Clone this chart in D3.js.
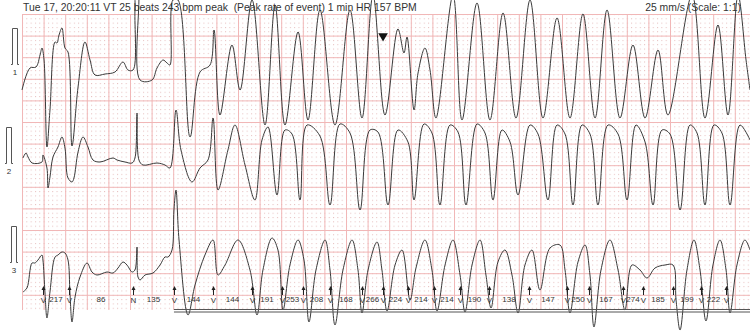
<!DOCTYPE html>
<html>
<head>
<meta charset="utf-8">
<script src="https://cdn.jsdelivr.net/npm/d3@7"></script>
<style>
  body { margin: 0; background: #fff; }
  svg { display: block; font-family: "Liberation Sans", Arial, sans-serif; }
</style>
</head>
<body>
<svg id="chart" width="750" height="332"></svg>
<script>
// header
const titleText = "Tue 17, 20:20:11 VT 25 beats 243 bpm peak  (Peak rate of event) 1 min HR 157 BPM";
const speedText = "25 mm/s (Scale: 1:1)";

// beat annotations (seconds from strip start)
const beatTimes = [0.194, 0.435, 1.028, 1.407, 1.769, 2.130, 2.407, 2.602, 2.852, 3.148, 3.343, 3.574,
    3.815, 4.056, 4.324, 4.694, 5.046, 5.250, 5.565, 5.750, 6.028, 6.287, 6.519];
const beatTypes = ["V", "V", "N", "V", "V", "V", "V", "V", "V", "V", "V", "V",
    "V", "V", "V", "V", "V", "V", "V", "V", "V", "V", "V"];
const rateLabels = [217, 86, 135, 144, 144, 191, 253, 208, 168, 266, 224, 214,
    214, 190, 138, 147, 250, 167, 274, 185, 199, 222];
const peakBeat = 10;
const eventStart = 1.407;

// traces: [seconds, mV]
const lead1 = [[0, -0.36], [0.074, 0.08], [0.13, 0.10], [0.167, 0.34], [0.185, 0.48], [0.204, 0.24],
    [0.231, -1.50], [0.259, -0.76], [0.306, 0.60], [0.324, 0.58], [0.343, 0.74], [0.370, 0.88],
    [0.398, 0.48], [0.426, 0.40], [0.463, -1.48], [0.519, -0.30], [0.583, 0.60], [0.630, 0.24],
    [0.676, -0.06], [0.769, -0.04], [0.861, 0], [0.935, 0.20], [0.981, 0.04], [1.028, 0.04],
    [1.046, 1.24], [1.056, 1.64], [1.074, 1.64], [1.093, -0.16], [1.204, -0.16], [1.25, 0.08],
    [1.306, 0.24], [1.343, 0.18], [1.370, 0.14],
    [1.398, 1.44], [1.444, 1.44], [1.556, -1.30], [1.648, 0], [1.741, 0.14], [1.778, 0.84],
    [1.833, -0.86], [1.944, 0.54], [2.019, -0.36], [2.130, 1.44], [2.250, -1.06], [2.343, 1.34],
    [2.435, -1.06], [2.556, 0.80], [2.648, -0.96], [2.759, 1.24], [2.898, -1.06], [3.037, 1.24],
    [3.148, -0.92], [3.250, 1.54], [3.361, -0.86], [3.481, 0.86], [3.537, 0.38], [3.565, 0.70],
    [3.630, -0.76], [3.667, -0.02], [3.731, 0.48], [3.778, 0.04], [3.833, -0.92], [3.991, 1.54],
    [4.074, -0.96], [4.213, 1.38], [4.333, -0.96], [4.454, 1.18], [4.574, -0.92], [4.704, 1.44],
    [4.824, -0.92], [4.954, 1.08], [5.074, -0.92], [5.194, 1.16], [5.306, -0.92], [5.417, 1.24],
    [5.537, -0.92], [5.657, 0.54], [5.769, -0.92], [5.889, 0.44], [5.981, -0.86], [6.204, 1.54],
    [6.324, -0.92], [6.444, 0.94], [6.537, -0.86], [6.630, 1.54], [6.704, 0.24], [6.741, -0.36]];
const lead2 = [[0.009, 0.08], [0.037, 0.18], [0.056, 0.10], [0.093, -0.02], [0.185, 0], [0.194, 0.14],
    [0.231, -0.12], [0.241, -0.52], [0.259, -0.30], [0.287, 0.10], [0.333, 0.30], [0.370, 0.50],
    [0.398, 0.28], [0.426, -0.32], [0.463, -0.40], [0.481, -0.32], [0.519, 0.20], [0.565, 0.50],
    [0.611, 0.30], [0.657, 0.04], [0.722, 0], [0.843, 0.08], [0.880, 0.04], [0.954, 0],
    [1.019, -0.02], [1.046, 0.08], [1.065, 0.98], [1.083, 0.04], [1.120, -0.06], [1.250, -0.02],
    [1.324, -0.06], [1.370, -0.12],
    [1.426, 1.04], [1.472, 0.24], [1.574, -0.40], [1.648, -0.12], [1.722, 0.04], [1.769, 0.88],
    [1.815, -0.56], [1.907, 0.24], [1.972, 0.74], [2.065, -0.06], [2.157, -0.76], [2.222, 0.44],
    [2.278, 0.70], [2.361, -0.66], [2.435, 0.64], [2.500, 0.56], [2.574, -0.76], [2.639, 0.74],
    [2.759, 0.52], [2.852, -0.86], [2.944, 0.76], [3.037, 0.58], [3.130, -0.96], [3.222, 0.64],
    [3.296, 0.60], [3.389, -0.86], [3.481, 0.64], [3.574, 0.40], [3.630, -0.76], [3.722, 0.76],
    [3.796, 0.58], [3.870, -0.86], [3.963, 0.74], [4.037, 0.60], [4.111, -0.86], [4.213, 0.76],
    [4.287, 0.58], [4.361, -0.76], [4.444, 0.64], [4.519, 0.40], [4.593, -0.66], [4.704, 0.74],
    [4.778, 0.56], [4.870, -0.76], [4.954, 0.74], [5.028, 0.56], [5.102, -0.86], [5.185, 0.74],
    [5.259, 0.56], [5.333, -0.86], [5.426, 0.74], [5.519, 0.56], [5.602, -0.76], [5.685, 0.74],
    [5.769, 0.40], [5.843, -0.86], [5.926, 0.64], [6.000, 0.56], [6.093, -0.96], [6.185, 0.74],
    [6.250, 0.58], [6.324, -0.86], [6.407, 0.74], [6.481, 0.58], [6.556, -0.86], [6.648, 0.74],
    [6.741, 0.44]];
const lead3 = [[0.009, -0.38], [0.046, -0.30], [0.093, 0.20], [0.120, 0.20], [0.148, 0.26], [0.185, 0.36],
    [0.194, 0.26], [0.213, -0.40], [0.231, -0.90], [0.259, -0.38], [0.306, 0.32], [0.333, 0.36],
    [0.370, 0.42], [0.398, 0.40], [0.426, 0.26], [0.444, -0.40], [0.463, -0.98], [0.491, -0.48],
    [0.537, -0.08], [0.602, 0.20], [0.648, 0.02], [0.694, -0.04], [0.787, 0.02], [0.843, 0],
    [0.889, 0.10], [0.935, 0.22], [0.972, 0.16], [1.019, 0.02], [1.046, 0.06], [1.065, 0.52],
    [1.074, -0.08], [1.093, -0.14], [1.139, -0.04], [1.213, 0], [1.278, 0.16], [1.324, 0.32],
    [1.352, 0.32], [1.389, 0.46],
    [1.407, 1.26], [1.426, 1.66], [1.454, 0.66], [1.537, -0.84], [1.602, -0.24], [1.694, 0.36],
    [1.769, 0.66], [1.815, -0.04], [1.880, 0.16], [2.000, 0.66], [2.111, 0.06], [2.176, -0.84],
    [2.231, 0.06], [2.315, 0.70], [2.370, 0.46], [2.417, -0.74], [2.481, 0.16], [2.556, 0.66],
    [2.611, 0.26], [2.657, -0.98], [2.722, 0.06], [2.806, 0.66], [2.852, 0.06], [2.898, -1.04],
    [2.972, 0.06], [3.056, 0.66], [3.111, 0.06], [3.148, -0.80], [3.204, 0.06], [3.287, 0.62],
    [3.333, 0.06], [3.380, -0.76], [3.454, 0.16], [3.519, 0.46], [3.593, -0.54], [3.648, 0.10],
    [3.731, 0.66], [3.796, 0.06], [3.843, -0.76], [3.917, 0.16], [3.991, 0.66], [4.056, -0.04],
    [4.102, -0.78], [4.167, 0.16], [4.241, 0.66], [4.296, -0.04], [4.343, -0.70], [4.407, 0.22],
    [4.472, 0.46], [4.537, -0.04], [4.593, -0.80], [4.657, 0.16], [4.722, 0.46], [4.796, -0.34],
    [4.889, 0.50], [4.981, 0.56], [5.028, 0.06], [5.074, -0.80], [5.148, 0.22], [5.213, 0.56],
    [5.259, -0.04], [5.296, -1.08], [5.361, 0.06], [5.444, 0.66], [5.519, 0.06], [5.583, -0.74],
    [5.648, 0.16], [5.722, 0.06], [5.787, -0.10], [5.861, 0.10], [5.954, 0.16], [6.028, 0.16],
    [6.056, -0.54], [6.093, -1.14], [6.157, 0.06], [6.222, 0.66], [6.278, 0.06], [6.333, -0.96],
    [6.398, 0.16], [6.463, 0.66], [6.519, 0.06], [6.556, -0.80], [6.620, 0.16], [6.694, 0.66],
    [6.741, 0.46]];

const svg = d3.select("#chart");
const width = +svg.attr("width");

const gx0 = 22, gy0 = 14, gy1 = 310;
const pxPerSec = 108;          // 25 mm/s at 4.32 px/mm
const pxPerMv = 50;
const calMv = 0.72;

const x = d3.scaleLinear().domain([0, (width - gx0) / pxPerSec]).range([gx0, width]);
const leadBase = [72, 162, 273];
const leadY = leadBase.map(b => d3.scaleLinear().domain([0, 1]).range([b, b - pxPerMv]));

// paper grid
const minor = 0.04, major = 0.2;
const minorPx = minor * pxPerSec;
const defs = svg.append("defs");
defs.append("pattern")
    .attr("id", "dots")
    .attr("patternUnits", "userSpaceOnUse")
    .attr("x", gx0).attr("y", gy0)
    .attr("width", minorPx).attr("height", minorPx)
    .append("rect")
    .attr("width", 1).attr("height", 1)
    .attr("fill", "#e6bcbc");

svg.append("rect")
    .attr("x", gx0).attr("y", gy0)
    .attr("width", width - gx0).attr("height", gy1 - gy0)
    .attr("fill", "url(#dots)");

const gridTimes = d3.range(0, x.domain()[1], major);
svg.append("g").selectAll("line")
    .data(gridTimes)
    .join("line")
    .attr("x1", d => x(d) + 0.5).attr("x2", d => x(d) + 0.5)
    .attr("y1", gy0).attr("y2", gy1)
    .attr("stroke", "#f1b7b7").attr("stroke-width", 1);

const rows = d3.range(0, (gy1 - gy0) / pxPerSec, major);
svg.append("g").selectAll("line")
    .data(rows)
    .join("line")
    .attr("x1", gx0).attr("x2", width)
    .attr("y1", d => gy0 + d * pxPerSec + 0.5).attr("y2", d => gy0 + d * pxPerSec + 0.5)
    .attr("stroke", "#f1b7b7").attr("stroke-width", 1);

// calibration pulses and lead numbers
const calX = [12, 6, 11];
const calBottom = [64.5, 163.5, 262.5];
calBottom.forEach((yb, i) => {
    const cx = calX[i] + 0.5;
    const yt = yb - calMv * pxPerMv;
    svg.append("path")
        .attr("d", `M${cx - 1.5},${yb}H${cx}V${yt}H${cx + 5}V${yb}H${cx + 6.5}`)
        .attr("fill", "none").attr("stroke", "#555").attr("stroke-width", 1);
    svg.append("text")
        .attr("x", cx + 2.5).attr("y", yb + 10)
        .attr("text-anchor", "middle")
        .attr("font-size", 8).attr("fill", "#333")
        .text(i + 1);
});

// traces
const line = d3.line().curve(d3.curveCatmullRom.alpha(0.5));
[lead1, lead2, lead3].forEach((lead, i) => {
    svg.append("path")
        .datum(lead)
        .attr("d", line.x(d => x(d[0])).y(d => leadY[i](d[1])))
        .attr("fill", "none")
        .attr("stroke", "#3a3a3a")
        .attr("stroke-width", 1)
        .attr("stroke-linejoin", "round");
});

// header text
svg.append("text")
    .attr("x", 23).attr("y", 11)
    .attr("font-size", 10.4).attr("fill", "#333")
    .style("white-space", "pre")
    .text(titleText);
svg.append("text")
    .attr("x", 741).attr("y", 11)
    .attr("text-anchor", "end")
    .attr("font-size", 10.4).attr("fill", "#333")
    .text(speedText);

// peak marker
svg.append("path")
    .attr("d", d3.symbol(d3.symbolTriangle, 40)())
    .attr("transform", `translate(${x(beatTimes[peakBeat])},36) rotate(180)`)
    .attr("fill", "#111");

// beat arrows and labels
const ann = svg.append("g").attr("font-size", 8).attr("fill", "#333").attr("text-anchor", "middle");
beatTimes.forEach((t, i) => {
    const bx = Math.round(x(t)) + 0.5;
    ann.append("line")
        .attr("x1", bx).attr("x2", bx).attr("y1", 288).attr("y2", 295)
        .attr("stroke", "#222").attr("stroke-width", 1);
    ann.append("path")
        .attr("d", `M${bx - 2},${290}L${bx},${286}L${bx + 2},${290}Z`)
        .attr("fill", "#222");
    ann.append("text")
        .attr("x", bx).attr("y", 303)
        .text(beatTypes[i]);
});
rateLabels.forEach((r, i) => {
    ann.append("text")
        .attr("x", (x(beatTimes[i]) + x(beatTimes[i + 1])) / 2)
        .attr("y", 302)
        .text(r);
});

// event bar
[309.5, 312].forEach(yy => {
    svg.append("line")
        .attr("x1", x(eventStart)).attr("x2", width)
        .attr("y1", yy).attr("y2", yy)
        .attr("stroke", "#555").attr("stroke-width", 1);
});
</script>
</body>
</html>
